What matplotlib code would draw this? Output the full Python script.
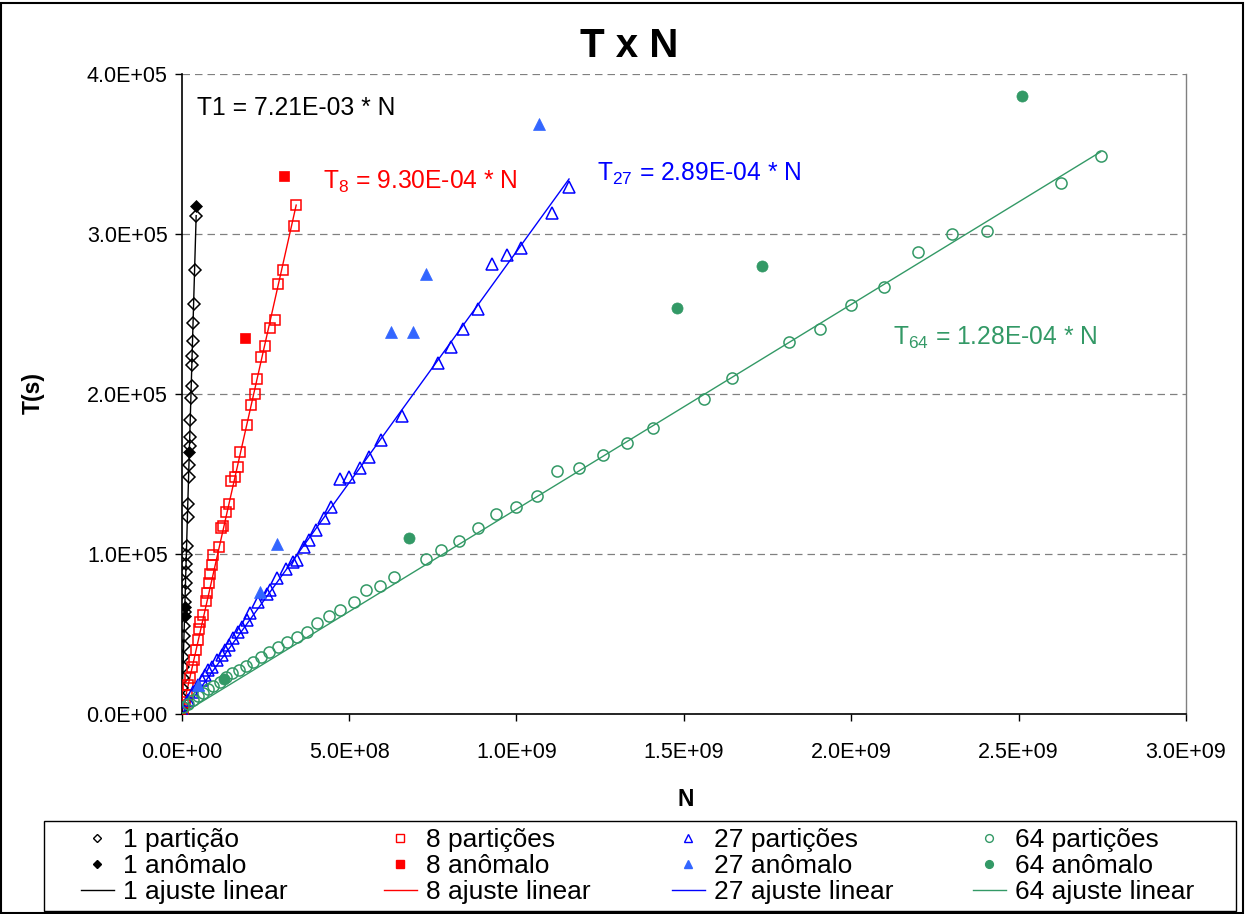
import numpy as np
import matplotlib
matplotlib.use("Agg")
import matplotlib.pyplot as plt
from matplotlib.ticker import FuncFormatter, MultipleLocator
from matplotlib.lines import Line2D
from matplotlib.patches import Rectangle

plt.rcParams['font.family'] = ['Liberation Sans', 'DejaVu Sans']
plt.rcParams['mathtext.fontset'] = 'custom'
plt.rcParams['mathtext.rm'] = 'Liberation Sans'
plt.rcParams['mathtext.it'] = 'Liberation Sans'

# units used in the tables below
N_UNIT = 1e9   # N values given in billions
T_UNIT = 1e5   # T values given in units of 1e5 s

# ---- 1 partição ----
n1 = [0.0432, 0.0390, 0.0362, 0.0346, 0.0330, 0.0318, 0.0310, 0.0293, 0.0283, 0.0262,
      0.0247, 0.0236, 0.0223, 0.0212, 0.0188, 0.0175, 0.0151, 0.0141, 0.0133, 0.0127,
      0.0116, 0.0110, 0.0100, 0.0090, 0.0078, 0.0069, 0.0060, 0.0050, 0.0041, 0.0032,
      0.0023, 0.0014, 0.0005]
t1 = [3.111, 2.776, 2.560, 2.446, 2.329, 2.240, 2.182, 2.053, 1.977, 1.836,
      1.729, 1.674, 1.556, 1.484, 1.312, 1.232, 1.053, 0.994, 0.940, 0.886,
      0.821, 0.768, 0.703, 0.638, 0.552, 0.487, 0.422, 0.357, 0.293, 0.228,
      0.163, 0.098, 0.033]
n1_anom = [0.0438, 0.0228, 0.0093, 0.0086]
t1_anom = [3.176, 1.640, 0.670, 0.612]
slope1 = 7.21e-03

# ---- 8 partições ----
n8 = [0.342, 0.335, 0.303, 0.289, 0.278, 0.263, 0.250, 0.237, 0.226, 0.218,
      0.207, 0.195, 0.175, 0.169, 0.160, 0.146, 0.141, 0.133, 0.124, 0.116,
      0.110, 0.094, 0.092, 0.084, 0.082, 0.077, 0.072, 0.064, 0.056, 0.052,
      0.0485, 0.043, 0.036, 0.030, 0.026, 0.020, 0.0145, 0.0097, 0.0039]
t8 = [3.182, 3.050, 2.776, 2.689, 2.465, 2.413, 2.300, 2.232, 2.094, 1.999,
      1.929, 1.809, 1.638, 1.541, 1.480, 1.459, 1.312, 1.260, 1.174, 1.165,
      1.044, 0.992, 0.929, 0.876, 0.821, 0.757, 0.707, 0.616, 0.573, 0.530,
      0.465, 0.400, 0.336, 0.2925, 0.2275, 0.184, 0.119, 0.076, 0.033]
n8_anom = [0.305, 0.188]
t8_anom = [3.3625, 2.348]
slope8 = 9.30e-04

# ---- 27 partições ----
n27 = [1.157, 1.107, 1.014, 0.972, 0.927, 0.886, 0.841, 0.805, 0.766, 0.658,
       0.596, 0.559, 0.532, 0.500, 0.473, 0.446, 0.425, 0.401, 0.380, 0.365,
       0.344, 0.332, 0.311, 0.284, 0.264, 0.255, 0.228, 0.204, 0.195, 0.180,
       0.168, 0.154, 0.142, 0.130, 0.121, 0.106, 0.091, 0.079, 0.070, 0.061,
       0.049, 0.034, 0.019, 0.004]
t27 = [3.294, 3.131, 2.9125, 2.869, 2.8125, 2.531, 2.406, 2.294, 2.194, 1.8625,
       1.7125, 1.606, 1.5375, 1.481, 1.469, 1.294, 1.225, 1.150, 1.0875, 1.044,
       0.9625, 0.950, 0.906, 0.850, 0.775, 0.750, 0.700, 0.631, 0.5875, 0.544,
       0.5125, 0.475, 0.431, 0.400, 0.369, 0.3375, 0.294, 0.275, 0.244, 0.2125,
       0.181, 0.1375, 0.0875, 0.0125]
n27_anom = [1.066, 0.730, 0.691, 0.625, 0.284, 0.234, 0.049]
t27_anom = [3.69, 2.75, 2.39, 2.39, 1.06, 0.76, 0.18]
slope27 = 2.89e-04

# ---- 64 partições ----
n64 = [2.745, 2.628, 2.407, 2.302, 2.198, 2.099, 2.000, 1.908, 1.815, 1.645,
       1.561, 1.409, 1.331, 1.259, 1.187, 1.122, 1.062, 0.999, 0.939, 0.886,
       0.829, 0.775, 0.730, 0.634, 0.593, 0.551, 0.515, 0.473, 0.440, 0.404,
       0.374, 0.345, 0.315, 0.288, 0.261, 0.237, 0.213, 0.192, 0.171, 0.150,
       0.132, 0.114, 0.094, 0.079, 0.064, 0.049, 0.034, 0.019, 0.005]
t64 = [3.4875, 3.319, 3.019, 3.000, 2.888, 2.669, 2.556, 2.406, 2.325, 2.100,
       1.969, 1.788, 1.694, 1.619, 1.5375, 1.519, 1.3625, 1.294, 1.250, 1.1625,
       1.081, 1.025, 0.969, 0.856, 0.800, 0.775, 0.700, 0.650, 0.6125, 0.569,
       0.5125, 0.481, 0.450, 0.419, 0.3875, 0.356, 0.325, 0.300, 0.275, 0.256,
       0.231, 0.200, 0.175, 0.156, 0.131, 0.1125, 0.0875, 0.0625, 0.044]
n64_anom = [2.511, 1.732, 1.480, 0.679, 0.126]
t64_anom = [3.8625, 2.800, 2.540, 1.100, 0.219]
slope64 = 1.28e-04

# series styles
BLACK = '#000000'
RED = '#FF0000'
BLUE = '#0000FF'
BLUE_FILL = '#3366FF'
GREEN = '#339966'

series = [
    dict(n=n1, t=t1, na=n1_anom, ta=t1_anom, slope=slope1, marker='D', ms=6.5,
         color=BLACK, fill=BLACK, label='1'),
    dict(n=n8, t=t8, na=n8_anom, ta=t8_anom, slope=slope8, marker='s', ms=7.4,
         color=RED, fill=RED, label='8'),
    dict(n=n27, t=t27, na=n27_anom, ta=t27_anom, slope=slope27, marker='^', ms=8.3,
         color=BLUE, fill=BLUE_FILL, label='27'),
    dict(n=n64, t=t64, na=n64_anom, ta=t64_anom, slope=slope64, marker='o', ms=8.0,
         color=GREEN, fill=GREEN, label='64'),
]

W, H = 1245, 914
fig = plt.figure(figsize=(W / 100, H / 100), dpi=100)
fig.patch.set_facecolor('white')

ax_l, ax_r, ax_t, ax_b = 181.7, 1186, 74, 714
ax = fig.add_axes([ax_l / W, 1 - ax_b / H, (ax_r - ax_l) / W, (ax_b - ax_t) / H])

ax.set_xlim(0, 3e9)
ax.set_ylim(0, 4e5)

# horizontal dashed gridlines
ax.yaxis.set_major_locator(MultipleLocator(1e5))
ax.xaxis.set_major_locator(MultipleLocator(5e8))
ax.grid(axis='y', color='#808080', linestyle=(0, (6, 4)), linewidth=0.9)
ax.set_axisbelow(True)

for s in series:
    n = np.array(s['n']) * N_UNIT
    t = np.array(s['t']) * T_UNIT
    na = np.array(s['na']) * N_UNIT
    ta = np.array(s['ta']) * T_UNIT
    xfit = np.array([0.0, n.max()])
    ax.plot(xfit, s['slope'] * xfit, color=s['color'], lw=1.0, zorder=2)
    ax.plot(n, t, ls='none', marker=s['marker'], ms=s['ms'], mfc='none',
            mec=s['color'], mew=1.1, zorder=3)
    ax.plot(na, ta, ls='none', marker=s['marker'], ms=s['ms'], mfc=s['fill'],
            mec=s['fill'], mew=0.5, zorder=4)

fmt = FuncFormatter(lambda v, p: f"{v:.1E}")
ax.xaxis.set_major_formatter(fmt)
ax.yaxis.set_major_formatter(fmt)
ax.tick_params(axis='both', direction='out', length=5, width=1, color='black',
               labelsize=15.5)
ax.tick_params(axis='x', pad=15)
ax.tick_params(axis='y', pad=5)

for side in ('left', 'bottom'):
    ax.spines[side].set_color('black')
    ax.spines[side].set_linewidth(1.2)
ax.spines['top'].set_visible(False)
ax.spines['right'].set_color('#808080')
ax.spines['right'].set_linewidth(1.0)

# labels and title
fig.text(629 / W, 1 - 46 / H, 'T x N', ha='center', va='center',
         fontsize=29, fontweight='bold')
fig.text(33 / W, 1 - 393 / H, 'T(s)', ha='center', va='center', rotation=90,
         fontsize=16.5, fontweight='bold')
fig.text(686 / W, 1 - 800 / H, 'N', ha='center', va='center',
         fontsize=16.5, fontweight='bold')

# fitted equations
eq_size = 17.7
fig.text(197 / W, 1 - 108 / H, 'T1 = 7.21E-03 * N', ha='left', va='center',
         fontsize=eq_size, color=BLACK)
fig.text(323 / W, 1 - 182 / H, r'T$_{\mathregular{8}}$ = 9.30E-04 * N', ha='left',
         va='center', fontsize=eq_size, color=RED)
fig.text(597 / W, 1 - 174 / H, r'T$_{\mathregular{27}}$ = 2.89E-04 * N', ha='left',
         va='center', fontsize=eq_size, color=BLUE)
fig.text(893 / W, 1 - 338 / H, r'T$_{\mathregular{64}}$ = 1.28E-04 * N', ha='left',
         va='center', fontsize=eq_size, color=GREEN)

# legend: one column per partition count, inside a single frame
fig.patches.append(Rectangle((44 / W, 1 - 911 / H), (1236 - 44) / W, (911 - 821) / H,
                             transform=fig.transFigure, fill=False,
                             edgecolor='black', linewidth=1.0))
leg_size = 19
col_x = [81, 384, 672, 973]
for s, cx in zip(series, col_x):
    plural = 'partição' if s['label'] == '1' else 'partições'
    handles = [
        Line2D([], [], ls='none', marker=s['marker'], ms=s['ms'] * 0.7, mfc='none',
               mec=s['color'], mew=1.0),
        Line2D([], [], ls='none', marker=s['marker'], ms=s['ms'] * 0.7,
               mfc=s['fill'], mec=s['fill']),
        Line2D([], [], color=s['color'], lw=1.0),
    ]
    labels = [f"{s['label']} {plural}", f"{s['label']} anômalo",
              f"{s['label']} ajuste linear"]
    fig.legend(handles, labels, loc='upper left',
               bbox_to_anchor=(cx / W, 1 - 828 / H), frameon=False,
               borderpad=0, borderaxespad=0, handlelength=1.25,
               handletextpad=0.33, labelspacing=0.08, fontsize=leg_size)

# outer chart border
fig.patches.append(Rectangle((0.001, 0.001), 0.997, 0.996, transform=fig.transFigure,
                             fill=False, edgecolor='black', linewidth=1.5))

fig.savefig('out.png', dpi=100, facecolor='white')
